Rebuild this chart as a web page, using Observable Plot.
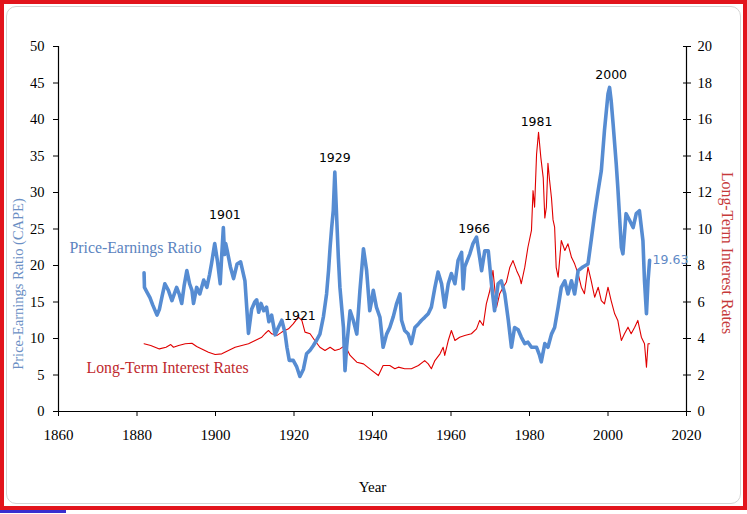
<!DOCTYPE html>
<html>
<head>
<meta charset="utf-8">
<script src="https://cdn.jsdelivr.net/npm/d3@7"></script>
<script src="https://cdn.jsdelivr.net/npm/@observablehq/plot@0.6"></script>
<style>
  body { margin: 0; background: #fff; }
  #wrap { position: relative; width: 747px; height: 514px; background: #fff; overflow: hidden; }
  #chart { position: absolute; left: 0; top: 0; }
  .frame-red { position: absolute; left: 0; top: 0; width: 747px; height: 510px; box-sizing: border-box; border: 4px solid #e2141c; pointer-events: none; }
  .frame-in { position: absolute; left: 6px; top: 6px; width: 735px; height: 498px; box-sizing: border-box; border: 1px solid #d4d4d4; border-radius: 10px; pointer-events: none; }
  .strip { position: absolute; left: 0; top: 510px; width: 66px; height: 3px; background: #3a2fd0; }
</style>
</head>
<body>
<div id="wrap">
  <div id="chart"></div>
  <div class="frame-red"></div>
  <div class="frame-in"></div>
  <div class="strip"></div>
</div>
<script>
// ---- Data ----
const capeYears = [1881.8,1881.9,1882.5,1883.3,1884.0,1885.1,1885.7,1886.4,1887.1,1888.0,1888.9,1890.1,1890.8,1891.4,1892.0,1892.7,1893.4,1894.0,1894.4,1895.2,1896.0,1897.0,1897.8,1898.5,1899.0,1899.8,1900.5,1901.2,1901.6,1902.0,1902.3,1902.6,1903.0,1903.8,1904.6,1905.5,1906.4,1907.5,1908.4,1909.2,1910.0,1910.5,1911.0,1911.6,1912.3,1913.0,1913.6,1914.3,1915.2,1916.0,1916.9,1917.7,1918.2,1918.8,1919.8,1920.7,1921.5,1922.4,1923.2,1924.1,1924.9,1925.8,1926.6,1927.5,1928.3,1928.8,1929.2,1929.6,1930.0,1930.4,1930.9,1931.3,1931.7,1932.6,1933.0,1933.4,1934.3,1935.1,1936.0,1936.8,1937.7,1938.5,1939.3,1939.8,1940.2,1941.0,1941.9,1942.7,1943.6,1944.4,1945.3,1946.1,1947.0,1947.4,1948.2,1949.1,1949.9,1950.8,1951.7,1952.5,1953.3,1954.2,1955.0,1955.9,1956.7,1957.6,1958.4,1959.3,1960.1,1961.0,1961.8,1962.7,1963.1,1963.5,1964.8,1965.6,1966.5,1967.3,1967.8,1968.6,1969.5,1970.3,1971.1,1972.0,1972.8,1973.7,1974.6,1975.4,1976.2,1977.1,1977.9,1978.8,1979.6,1980.5,1981.8,1982.5,1983.0,1983.9,1984.7,1985.6,1986.4,1987.3,1988.1,1989.0,1989.8,1990.7,1991.5,1992.4,1993.6,1994.9,1995.7,1996.6,1997.5,1998.3,1999.1,2000.0,2000.4,2000.8,2001.3,2002.1,2002.5,2003.4,2003.8,2004.6,2005.5,2006.4,2007.2,2008.0,2008.9,2009.3,2009.8,2010.2,2010.6];
const capeValues = [19.0,17.0,16.4,15.6,14.6,13.2,14.0,15.8,17.5,16.6,15.2,17.0,16.0,14.8,17.2,19.3,17.5,16.6,14.8,17.0,16.1,18.0,17.0,18.8,20.3,23.0,20.6,17.5,21.5,25.2,21.5,23.0,22.0,19.8,18.2,20.2,20.5,17.9,10.7,14.0,15.0,15.3,13.6,14.8,13.8,14.3,12.3,13.2,10.5,11.5,12.5,10.8,8.8,7.0,7.0,6.1,4.8,5.8,7.9,8.4,9.0,9.8,10.6,13.0,16.1,19.3,22.5,25.2,27.5,32.8,26.2,21.1,17.0,11.5,5.6,8.8,13.8,12.5,10.6,16.6,22.3,19.3,13.8,15.2,16.6,14.3,12.9,8.8,10.6,11.5,13.0,14.7,16.1,12.5,11.1,10.6,9.3,11.5,12.0,12.5,12.9,13.4,14.3,17.0,19.1,17.5,14.3,17.5,18.9,17.5,20.7,21.8,16.8,19.8,21.6,23.0,23.9,21.1,19.3,22.0,22.0,17.5,13.8,17.5,17.9,16.1,12.5,8.8,11.5,11.2,10.2,9.3,9.5,8.8,8.8,7.8,6.8,9.3,8.8,10.6,11.5,14.3,17.0,17.9,16.1,17.9,16.1,19.3,19.8,20.2,23.4,27.1,30.3,33.0,38.5,43.5,44.4,42.6,39.4,33.9,30.7,22.5,21.6,27.1,26.2,25.2,27.1,27.5,23.4,17.9,13.4,17.9,20.7];

const rateYears = [1881.8,1883.5,1885.7,1887.4,1888.6,1889.3,1890.6,1892.3,1894.0,1895.2,1896.5,1898.2,1899.9,1901.6,1903.3,1905.0,1906.7,1908.4,1910.1,1911.8,1912.6,1913.5,1914.3,1915.6,1916.9,1918.6,1919.8,1921.1,1922.0,1922.8,1924.1,1925.3,1926.6,1927.9,1929.2,1930.4,1931.7,1933.0,1934.3,1936.0,1937.7,1939.8,1941.5,1942.7,1944.4,1945.7,1946.6,1948.2,1949.9,1951.7,1953.3,1954.2,1955.0,1955.9,1957.2,1958.0,1958.4,1959.3,1960.1,1961.0,1962.2,1963.5,1965.2,1966.5,1967.3,1968.2,1969.0,1969.9,1970.7,1971.6,1972.4,1973.3,1974.1,1975.0,1975.8,1976.7,1977.5,1977.9,1978.8,1979.6,1980.5,1980.9,1981.3,1981.8,1982.3,1982.9,1983.5,1983.9,1984.3,1984.7,1985.1,1985.6,1986.0,1986.4,1986.8,1987.3,1988.1,1989.0,1989.8,1990.7,1991.5,1992.4,1993.2,1994.0,1994.9,1995.7,1996.6,1997.5,1998.3,1999.1,2000.0,2000.8,2001.7,2002.5,2003.4,2004.2,2005.1,2005.9,2006.8,2007.6,2008.5,2009.3,2009.8,2010.2,2010.6];
const rateValues = [3.71,3.62,3.43,3.52,3.67,3.52,3.62,3.71,3.74,3.56,3.43,3.25,3.12,3.16,3.34,3.52,3.62,3.71,3.89,4.07,4.26,4.44,4.26,4.16,4.35,4.53,4.80,5.17,4.99,4.35,4.26,3.89,3.52,3.34,3.52,3.34,3.43,3.62,3.07,2.70,2.61,2.25,1.97,2.52,2.52,2.34,2.43,2.34,2.34,2.52,2.79,2.61,2.34,2.79,3.16,3.52,3.07,3.89,4.44,3.89,4.07,4.16,4.26,4.53,4.99,4.71,5.90,6.63,7.73,5.71,6.45,6.81,7.08,7.91,8.27,7.73,7.36,7.00,7.91,9.00,9.92,12.1,11.2,14.1,15.3,13.9,12.8,10.6,11.2,13.6,12.7,11.7,10.5,10.1,7.9,7.36,9.37,8.82,9.19,8.45,8.09,7.54,6.81,6.45,7.91,7.18,6.26,6.81,6.08,5.90,6.81,6.08,5.35,4.99,3.89,4.26,4.62,4.26,4.62,4.99,4.07,3.71,2.43,3.71,3.71];

const xTicks = [1860,1880,1900,1920,1940,1960,1980,2000,2020];
const capeTicks = [0,5,10,15,20,25,30,35,40,45,50];
const rateTicks = [0,2,4,6,8,10,12,14,16,18,20];

const peakLabels = ["1901","1921","1929","1966","1981","2000"];
const peakYears  = [1902.4,1921.5,1930.4,1965.9,1981.8,2000.8];
const peakLevels = [26.85,13.15,34.66,25.03,39.63,46.03];

const lastCapeLabel = "19.63";

// ---- Build tables ----
const capeDomain = [0, 50];
const rateDomain = [0, 20];
const k = capeDomain[1] / rateDomain[1]; // rate -> left-axis units
const xDomain = [xTicks[0], xTicks[xTicks.length - 1]];

const cape = capeYears.map((y, i) => ({year: y, value: capeValues[i]}));
const rates = rateYears.map((y, i) => ({year: y, value: rateValues[i] * k}));
const peaks = peakLabels.map((t, i) => ({text: t, year: peakYears[i], level: peakLevels[i]}));
const last = cape[cape.length - 1];

const serif = "'Liberation Serif', 'Times New Roman', serif";
const sans = "'DejaVu Sans', Verdana, sans-serif";
const blue = "#568cd2";
const red = "#e00000";

const chart = Plot.plot({
  width: 747,
  height: 514,
  marginLeft: 58,
  marginRight: 61,
  marginTop: 46,
  marginBottom: 103,
  style: {fontFamily: serif, fontSize: "14px", color: "#000", background: "transparent"},
  x: {domain: xDomain},
  y: {domain: capeDomain},
  marks: [
    // axis lines
    Plot.ruleY([capeDomain[0]], {stroke: "#000", strokeWidth: 1.2}),
    Plot.ruleX(xDomain, {stroke: "#000", strokeWidth: 1.2}),
    // axes
    Plot.axisX({ticks: xTicks, tickFormat: d => String(d), tickSize: 5, tickPadding: 13, fontSize: 15, label: null}),
    Plot.axisY({ticks: capeTicks, tickSize: 5, tickPadding: 9, fontSize: 14.5, label: null}),
    Plot.axisY({anchor: "right", ticks: rateTicks.map(r => r * k), tickFormat: d => String(d / k), tickSize: 4, tickPadding: 7, fontSize: 14.5, label: null}),
    Plot.axisY({anchor: "right", ticks: rateTicks.map(r => r * k), tickFormat: () => "", tickSize: -4, label: null}),
    // series
    Plot.line(rates, {x: "year", y: "value", stroke: red, strokeWidth: 1.1}),
    Plot.line(cape, {x: "year", y: "value", stroke: blue, strokeWidth: 3.6, strokeLinejoin: "round"}),
    // annotations
    Plot.text(peaks, {x: "year", y: "level", text: "text", fontFamily: sans, fontSize: 12.5, fill: "#000"}),
    Plot.text([last], {x: "year", y: "value", text: () => lastCapeLabel, textAnchor: "start", dx: 3, dy: 0, fontFamily: sans, fontSize: 12.5, fill: "#5f8ac6"}),
    Plot.text(["Price-Earnings Ratio"], {frameAnchor: "top-left", dx: 11, dy: 195, textAnchor: "start", fontSize: 15.8, fill: "#5b84c0"}),
    Plot.text(["Long-Term Interest Rates"], {frameAnchor: "top-left", dx: 28, dy: 315, textAnchor: "start", fontSize: 15.8, fill: "#c0282d"}),
    // axis titles
    Plot.text(["Price-Earnings Ratio (CAPE)"], {frameAnchor: "left", textAnchor: "middle", rotate: -90, dx: -40, dy: 55, fontSize: 14.5, fill: "#6b8fc4"}),
    Plot.text(["Long-Term Interest Rates"], {frameAnchor: "right", textAnchor: "middle", rotate: 90, dx: 41, dy: 24, fontSize: 15.8, fill: "#c63a3a"}),
    Plot.text(["Year"], {frameAnchor: "bottom", dy: 80, fontSize: 15, fill: "#000"})
  ]
});
document.getElementById("chart").appendChild(chart);
</script>
</body>
</html>
